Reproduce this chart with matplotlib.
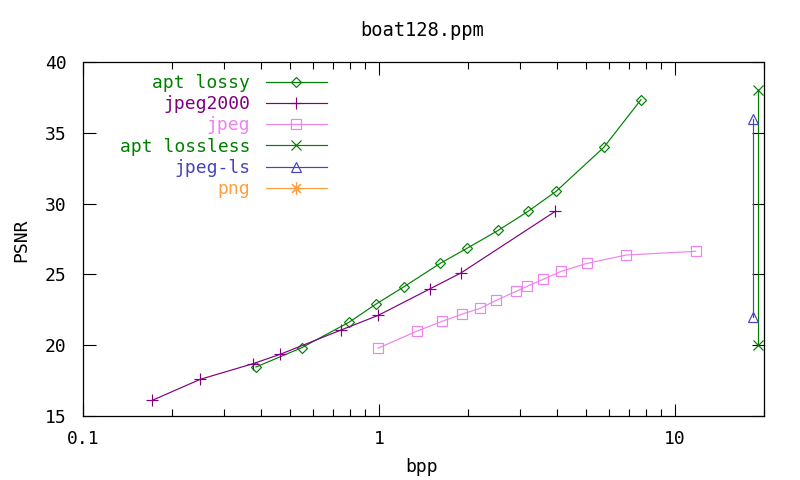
import matplotlib
matplotlib.use("Agg")
import matplotlib.pyplot as plt
from matplotlib.ticker import LogLocator, FixedLocator, FuncFormatter, NullFormatter

plt.rcParams['font.family'] = ['DejaVu Sans Mono']

title = "boat128.ppm"
xlabel = "bpp"
ylabel = "PSNR"

apt_lossy_bpp = [0.384, 0.548, 0.792, 0.975, 1.215, 1.611, 1.983, 2.53, 3.19, 3.97, 5.75, 7.68]
apt_lossy_psnr = [18.46, 19.82, 21.62, 22.89, 24.13, 25.78, 26.84, 28.11, 29.45, 30.87, 33.97, 37.34]

jpeg2000_bpp = [0.1715, 0.249, 0.376, 0.464, 0.744, 0.995, 1.484, 1.892, 3.94]
jpeg2000_psnr = [16.11, 17.59, 18.70, 19.36, 21.07, 22.11, 23.97, 25.10, 29.45]

jpeg_bpp = [0.995, 1.347, 1.636, 1.912, 2.199, 2.491, 2.911, 3.17, 3.59, 4.13, 5.05, 6.85, 11.75]
jpeg_psnr = [19.80, 21.00, 21.69, 22.20, 22.60, 23.17, 23.81, 24.16, 24.65, 25.22, 25.78, 26.37, 26.63]

apt_lossless_bpp = [19.1, 19.1]
apt_lossless_psnr = [38.0, 20.0]

jpegls_bpp = [18.4, 18.4]
jpegls_psnr = [36.0, 22.0]

png_bpp = []
png_psnr = []

series_labels = ["apt lossy", "jpeg2000", "jpeg", "apt lossless", "jpeg-ls", "png"]
colors = ["#008000", "#800080", "#ee82ee", "#008000", "#4444bb", "#ff9f40"]

x_ticks = [0.1, 1, 10]
x_tick_labels = ["0.1", "1", "10"]
y_ticks = [15, 20, 25, 30, 35, 40]

W, H = 800, 480
fig = plt.figure(figsize=(W / 100, H / 100), dpi=100)
ax = fig.add_axes([83 / W, 1 - 416 / H, (764 - 83) / W, (416 - 62) / H])

lw = 0.85
common = dict(lw=lw, mew=lw, fillstyle='none')
ax.plot(apt_lossy_bpp, apt_lossy_psnr, color=colors[0], marker='D', ms=5.5, label=series_labels[0], **common)
ax.plot(jpeg2000_bpp, jpeg2000_psnr, color=colors[1], marker='+', ms=9, label=series_labels[1], **common)
ax.plot(jpeg_bpp, jpeg_psnr, color=colors[2], marker='s', ms=7, label=series_labels[2], **common)
ax.plot(apt_lossless_bpp, apt_lossless_psnr, color=colors[3], marker='x', ms=7, label=series_labels[3], clip_on=False, **common)
ax.plot(jpegls_bpp, jpegls_psnr, color=colors[4], marker='^', ms=7, label=series_labels[4], clip_on=False, **common)
ax.plot(png_bpp, png_psnr, color=colors[5], marker=(8, 2, 0), ms=9, label=series_labels[5], **common)

ax.set_xscale('log')
ax.set_xlim(0.1, 20)
ax.set_ylim(15, 40)
ax.xaxis.set_major_locator(FixedLocator(x_ticks))
ax.xaxis.set_major_formatter(FuncFormatter(lambda v, p: x_tick_labels[x_ticks.index(v)] if v in x_ticks else ""))
ax.xaxis.set_minor_locator(LogLocator(base=10, subs=range(2, 10)))
ax.xaxis.set_minor_formatter(NullFormatter())
ax.set_yticks(y_ticks)

ax.tick_params(which='major', direction='in', top=True, right=True, length=9, width=0.8,
               labelsize=13, pad=12, colors='black')
ax.tick_params(which='minor', direction='in', top=True, right=True, length=5, width=0.8)
ax.tick_params(axis='x', which='major', pad=10)
for s in ax.spines.values():
    s.set_linewidth(0.9)

fig.text(422 / W, 1 - 31 / H, title, ha='center', va='center', fontsize=13.5)
fig.text(422 / W, 1 - 467 / H, xlabel, ha='center', va='center', fontsize=13)
fig.text(21 / W, 1 - 240 / H, ylabel, ha='center', va='center', rotation=90, fontsize=13)

leg = ax.legend(loc='upper right', bbox_to_anchor=(327 / W, 1 - 74 / H), bbox_transform=fig.transFigure,
                frameon=False, markerfirst=False, fontsize=13, handlelength=3.4, handletextpad=0.85,
                labelspacing=0.18, borderpad=0, borderaxespad=0)
for t, c in zip(leg.get_texts(), colors):
    t.set_color(c)

fig.savefig("out.png", dpi=100)
